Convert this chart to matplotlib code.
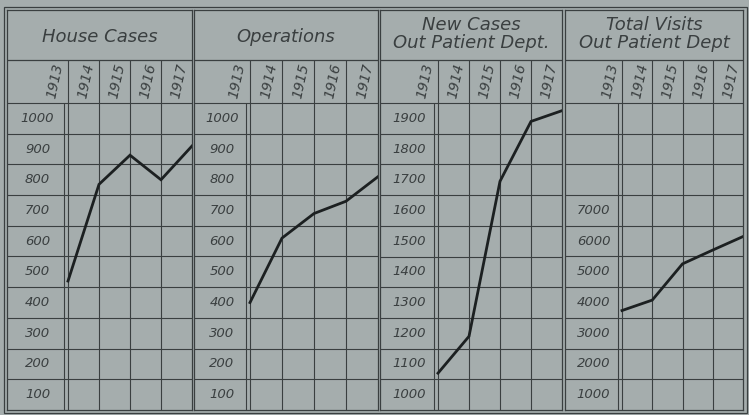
import matplotlib.pyplot as plt
from matplotlib.patches import Rectangle

years = [1913, 1914, 1915, 1916, 1917]
house_cases = [470, 785, 880, 800, 910]
operations = [400, 610, 690, 730, 810]
new_cases = [1070, 1190, 1695, 1890, 1925]
total_visits = [3740, 4080, 5260, 5710, 6150]

titles = ['House Cases', 'Operations',
          'New Cases\nOut Patient Dept.', 'Total Visits\nOut Patient Dept']
series = [house_cases, operations, new_cases, total_visits]
scale_labels = [list(range(100, 1001, 100)),
                list(range(100, 1001, 100)),
                list(range(1000, 1901, 100)),
                list(range(1000, 7001, 1000))]
steps = [100, 100, 100, 1000]

W, H = 749, 415
bg = '#a5adad'
ink = '#3a3f40'

# pixel layout of each panel: left edge, 1913 line, 1917 line
lefts = [7, 194, 380, 565]
firsts = [68, 250, 438, 622]
rights = [192, 378, 562, 743]
top, head, body, bottom = 10, 60, 103, 410
row = (bottom - body) / 10

plt.rcParams['font.family'] = ['DejaVu Sans']
fig = plt.figure(figsize=(W / 100, H / 100), dpi=100, facecolor=bg)

# outer double frame
fig.add_artist(Rectangle((4 / W, 1 - 413 / H), 743 / W, 406 / H, fill=False,
                         edgecolor=ink, lw=0.9, transform=fig.transFigure))

for i in range(4):
    ax = fig.add_axes([lefts[i] / W, 1 - bottom / H,
                       (rights[i] - lefts[i]) / W, (bottom - top) / H])
    ax.set_facecolor(bg)
    step = steps[i]
    colw = (rights[i] - firsts[i]) / 4
    x0 = 1913 - (firsts[i] - lefts[i]) / colw
    lo = scale_labels[i][0] - step / 2

    def val(ypx):
        return lo + step * (bottom - ypx) / row

    ax.set_xlim(x0, 1917)
    ax.set_ylim(lo, val(top))

    for k in range(1, 11):
        ax.axhline(lo + k * step, color=ink, lw=0.8)
    ax.axhline(val(head), color=ink, lw=0.9)
    ax.vlines(years[:-1], lo, val(head), color=ink, lw=0.8)
    # double rule between the scale column and the data
    ax.vlines(1913 - 4 / colw, lo, val(body), color=ink, lw=0.8)

    ax.plot(years, series[i], color='#1c2021', lw=2.0, solid_joinstyle='miter')

    xl = (x0 + 1913) / 2
    for v in scale_labels[i]:
        ax.text(xl, v, str(v), ha='center', va='center', style='italic',
                fontsize=9.5, color=ink)
    for yr in years:
        ax.text(yr - 0.4, val(81), str(yr), ha='center', va='center',
                rotation=78, style='italic', fontsize=10, color=ink)

    ty = val(37) if '\n' not in titles[i] else val(34)
    ax.text((x0 + 1917) / 2, ty, titles[i], ha='center', va='center',
            style='italic', fontsize=13, color=ink, linespacing=1.0)

    for s in ax.spines.values():
        s.set_color(ink)
        s.set_linewidth(0.9)
    ax.set_xticks([])
    ax.set_yticks([])

fig.savefig('out.png', dpi=100, facecolor=bg)
